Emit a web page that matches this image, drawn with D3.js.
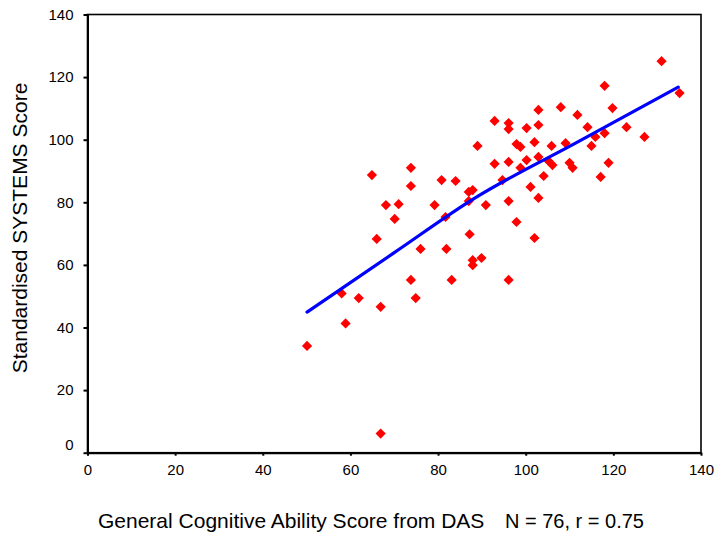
<!DOCTYPE html>
<html>
<head>
<meta charset="utf-8">
<script src="https://cdn.jsdelivr.net/npm/d3@7"></script>
<style>
  html, body { margin: 0; padding: 0; background: #fff; }
  svg { display: block; font-family: "Liberation Sans", Arial, sans-serif; }
</style>
</head>
<body>
<svg id="chart" width="716" height="535"></svg>
<script>
// ---- data ----
const dasScore = [50.1, 58.0, 58.9, 61.9, 64.9, 66.0, 66.9, 66.9, 68.1, 70.1,
  71.0, 73.8, 73.8, 73.8, 74.9, 76.0, 79.2, 80.8, 81.7, 81.9,
  83.1, 84.0, 87.0, 87.9, 87.0, 87.2, 87.9, 87.9, 89.0, 89.9,
  90.9, 92.9, 92.9, 94.7, 96.1, 96.1, 96.1, 96.1, 96.1, 97.9,
  98.8, 98.8, 97.9, 100.2, 100.2, 101.1, 102.0, 102.0, 102.9, 102.9,
  102.9, 102.9, 104.1, 105.2, 106.1, 105.9, 108.0, 109.1, 110.0, 110.7,
  111.8, 114.1, 115.0, 115.9, 117.1, 118.0, 118.0, 118.9, 119.8, 123.0,
  127.1, 131.0, 135.1];
const systemsScore = [34.1, 50.9, 41.3, 49.4, 88.7, 68.3, 46.6, 6.1, 79.1, 74.7,
  79.4, 91.0, 85.2, 55.2, 49.4, 65.1, 79.1, 87.1, 75.3, 65.1,
  55.2, 86.8, 83.3, 83.9, 80.4, 69.8, 61.5, 59.9, 98.0, 62.2,
  79.1, 106.0, 92.3, 87.1, 105.3, 103.4, 92.9, 80.4, 55.2, 98.6,
  97.7, 91.0, 73.7, 103.7, 93.5, 84.9, 99.2, 68.6, 109.5, 104.7,
  94.5, 81.4, 88.4, 93.2, 91.9, 98.0, 110.4, 98.9, 92.6, 91.0,
  107.9, 104.0, 98.0, 100.9, 88.1, 117.2, 102.1, 92.6, 110.1, 104.0,
  100.9, 125.1, 114.9];
// fitted (smoothed) line
const fitX = [50.1, 70.0, 88.0, 112.0, 134.8];
const fitY = [44.9, 63.9, 81.0, 99.4, 116.8];
const xTicks = [0, 20, 40, 60, 80, 100, 120, 140];
const yTicks = [0, 20, 40, 60, 80, 100, 120, 140];
const xTitle = "General Cognitive Ability Score from DAS";
const statText = "N = 76, r = 0.75";
const yTitle = "Standardised SYSTEMS Score";

// ---- drawing ----
const svg = d3.select("#chart");
const x = d3.scaleLinear().domain([0, 140]).range([87.5, 701]);
const y = d3.scaleLinear().domain([0, 140]).range([452.7, 14.5]);

// frame (top and right)
svg.append("rect")
  .attr("x", x(0)).attr("y", y(140))
  .attr("width", x(140) - x(0)).attr("height", y(0) - y(140))
  .attr("fill", "none").attr("stroke", "#000").attr("stroke-width", 1.6);

// x axis
const gx = svg.append("g").attr("transform", `translate(0,${y(0)})`)
  .call(d3.axisBottom(x).tickValues(xTicks).tickSize(3).tickPadding(9).tickSizeOuter(0));
// y axis
const gy = svg.append("g").attr("transform", `translate(${x(0)},0)`)
  .call(d3.axisLeft(y).tickValues(yTicks).tickSize(4).tickPadding(10).tickSizeOuter(0));

[gx, gy].forEach(g => {
  g.select(".domain").attr("stroke", "#000").attr("stroke-width", 2);
  g.selectAll(".tick line").attr("stroke", "#000").attr("stroke-width", 2);
  g.selectAll(".tick text").attr("fill", "#000")
    .style("font-size", "15px").style("font-family", "'Liberation Sans', Arial, sans-serif");
});
// the zero label on the y axis sits slightly above its tick in the reference
gy.selectAll(".tick text").filter(d => d === 0).attr("dy", "-0.2em");

// points (red diamonds)
const pts = dasScore.map((v, i) => [v, systemsScore[i]]);
const diamond = d3.symbol().type(d3.symbolSquare).size(52);
svg.append("g").selectAll("path").data(pts).join("path")
  .attr("d", diamond)
  .attr("transform", d => `translate(${x(d[0])},${y(d[1])}) rotate(45)`)
  .attr("fill", "#ff0000");

// fit line
const fit = fitX.map((v, i) => [v, fitY[i]]);
svg.append("path").datum(fit)
  .attr("d", d3.line().x(d => x(d[0])).y(d => y(d[1])).curve(d3.curveMonotoneX))
  .attr("fill", "none").attr("stroke", "#0000ff").attr("stroke-width", 3.2)
  .attr("stroke-linecap", "round");

// titles
const xt = svg.append("text").attr("y", 528).attr("fill", "#000");
xt.append("tspan").attr("x", 98).style("font-size", "21px").text(xTitle);
xt.append("tspan").attr("x", 505).style("font-size", "20px").text(statText);

svg.append("text")
  .attr("transform", `translate(27,228) rotate(-90)`)
  .attr("text-anchor", "middle")
  .style("font-size", "21px").attr("fill", "#000")
  .text(yTitle);
</script>
</body>
</html>
